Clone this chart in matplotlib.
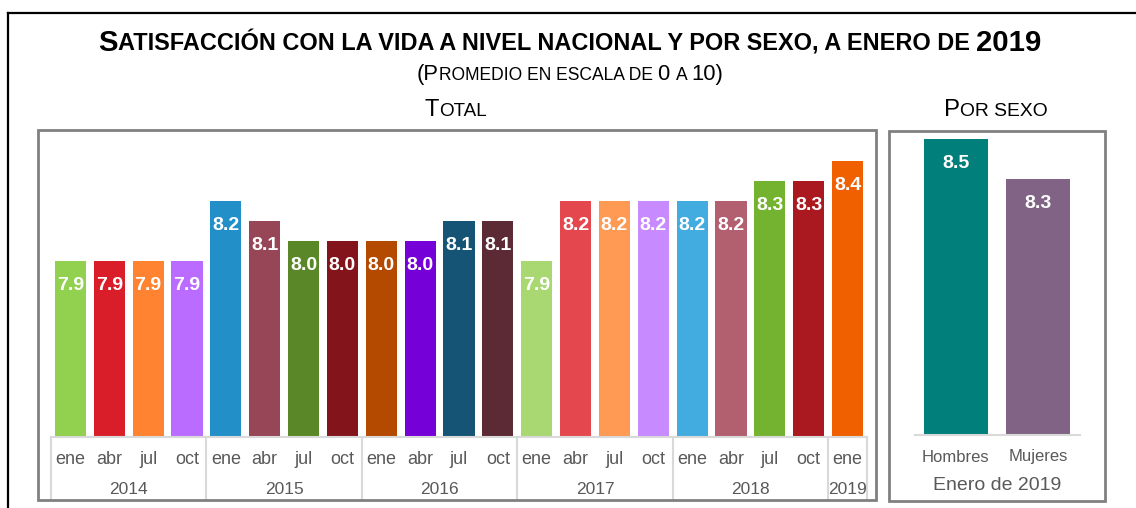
import matplotlib
matplotlib.use("Agg")
import matplotlib.pyplot as plt
from matplotlib.lines import Line2D
from matplotlib.patches import Rectangle

plt.rcParams["font.family"] = ["Liberation Sans", "DejaVu Sans"]

# Datos
meses = ["ene", "abr", "jul", "oct"] * 5 + ["ene"]
anios = ["2014", "2015", "2016", "2017", "2018", "2019"]
meses_por_anio = [4, 4, 4, 4, 4, 1]
total = [7.9, 7.9, 7.9, 7.9,
         8.2, 8.1, 8.0, 8.0,
         8.0, 8.0, 8.1, 8.1,
         7.9, 8.2, 8.2, 8.2,
         8.2, 8.2, 8.3, 8.3,
         8.4]
colores_total = ["#92d050", "#d91e2a", "#ff8330", "#b96cff",
                 "#228fc8", "#974658", "#5a8727", "#84141b",
                 "#b34a00", "#7500d8", "#155474", "#5b2a34",
                 "#a9d772", "#e5474f", "#ff9a55", "#c78aff",
                 "#42abe0", "#b25f70", "#73b32f", "#aa1820",
                 "#f06000"]
sexo = ["Hombres", "Mujeres"]
valores_sexo = [8.5, 8.3]
colores_sexo = ["#007f7b", "#806385"]

W, H = 1136, 508
fig = plt.figure(figsize=(W / 100, H / 100), dpi=100)
gris = "#595959"
linea = "#d9d9d9"
base = 7.02


def fx(x):
    return x / W


def fy(y):
    return 1 - y / H


def small_caps(xc, yb, s, size, weight="normal", color="black", ratio=0.8):
    r = fig.canvas.get_renderer()
    runs = []
    for ch in s:
        if ch in " ," and runs:
            sz = runs[-1][1]
        else:
            sz = size * ratio if ch.islower() else size
        if runs and runs[-1][1] == sz:
            runs[-1][0] += ch.upper()
        else:
            runs.append([ch.upper(), sz])

    def ancho(txt, sz):
        t1 = fig.text(0, 0, txt + "|", fontsize=sz, weight=weight)
        t2 = fig.text(0, 0, "|", fontsize=sz, weight=weight)
        w = t1.get_window_extent(r).width - t2.get_window_extent(r).width
        t1.remove()
        t2.remove()
        return w

    anchos = [ancho(t, sz) for t, sz in runs]
    x = xc - sum(anchos) / 2
    for (t, sz), w in zip(runs, anchos):
        fig.text(fx(x), fy(yb), t, fontsize=sz, weight=weight, color=color,
                 ha="left", va="baseline")
        x += w


# Marco exterior
fig.add_artist(Line2D([fx(8), fx(W)], [fy(13), fy(13)], transform=fig.transFigure,
                      color="black", lw=1.6))
fig.add_artist(Line2D([fx(8), fx(8)], [fy(13), fy(H)], transform=fig.transFigure,
                      color="black", lw=1.6))

# Titulos
small_caps(570, 51, "Satisfacción con la vida a nivel nacional y por sexo, a enero de 2019",
           21.2, weight="bold", ratio=0.8)
small_caps(570, 80, "(Promedio en escala de 0 a 10)", 15.8)
small_caps(456, 116, "Total", 17)
small_caps(996, 116, "Por sexo", 17.3)

# Paneles
fig.add_artist(Rectangle((fx(38), fy(500)), (876 - 38) / W, (500 - 130) / H,
                         transform=fig.transFigure, fill=False, ec="#808080", lw=2))
fig.add_artist(Rectangle((fx(889), fy(501)), (1105 - 889) / W, (501 - 131) / H,
                         transform=fig.transFigure, fill=False, ec="#808080", lw=2))

# Total
ax = fig.add_axes([fx(51), fy(437), (867 - 51) / W, (437 - 130) / H])
ax.bar(range(len(total)), total, width=0.8, color=colores_total)
ax.set_xlim(-0.5, len(total) - 0.5)
ax.set_ylim(base, base + 307 / 200)
ax.axis("off")
for i, v in enumerate(total):
    ax.annotate(f"{v:.1f}", (i, v), xytext=(0, -17.5), textcoords="offset points",
                ha="center", va="center", color="white", fontsize=14, fontweight="bold")

tr = ax.get_xaxis_transform()
fondo = -(500 - 437) / 307
ax.plot([-0.5, len(total) - 0.5], [0, 0], transform=tr, color=linea, lw=1.5, clip_on=False)
for i, m in enumerate(meses):
    ax.text(i, -(459 - 437) / 307, m, transform=tr, ha="center", va="center",
            fontsize=13, color=gris)
inicio = -0.5
for anio, n in zip(anios, meses_por_anio):
    ax.plot([inicio, inicio], [0, fondo], transform=tr, color=linea, lw=1.5, clip_on=False)
    ax.text(inicio + n / 2, -(489 - 437) / 307, anio, transform=tr, ha="center",
            va="center", fontsize=12.5, color=gris)
    inicio += n
ax.plot([inicio, inicio], [0, fondo], transform=tr, color=linea, lw=1.5, clip_on=False)

# Por sexo
ax2 = fig.add_axes([fx(914.5), fy(435), 165 / W, (435 - 130) / H])
ax2.bar(range(len(sexo)), valores_sexo, width=0.78, color=colores_sexo)
ax2.set_xlim(-0.5, len(sexo) - 0.5)
ax2.set_ylim(base, base + 305 / 200)
ax2.axis("off")
for i, v in enumerate(valores_sexo):
    ax2.annotate(f"{v:.1f}", (i, v), xytext=(0, -17.5), textcoords="offset points",
                 ha="center", va="center", color="white", fontsize=14, fontweight="bold")
tr2 = ax2.get_xaxis_transform()
ax2.plot([-0.5, len(sexo) - 0.5], [0, 0], transform=tr2, color=linea, lw=1.5, clip_on=False)
for i, s in enumerate(sexo):
    ax2.text(i, -(457 - 435) / 305, s, transform=tr2, ha="center", va="center",
             fontsize=12, color=gris)
ax2.text(0.5, -(485 - 435) / 305, "Enero de 2019", transform=tr2, ha="center",
         va="center", fontsize=14, color=gris)

fig.savefig("out.png", dpi=100)
